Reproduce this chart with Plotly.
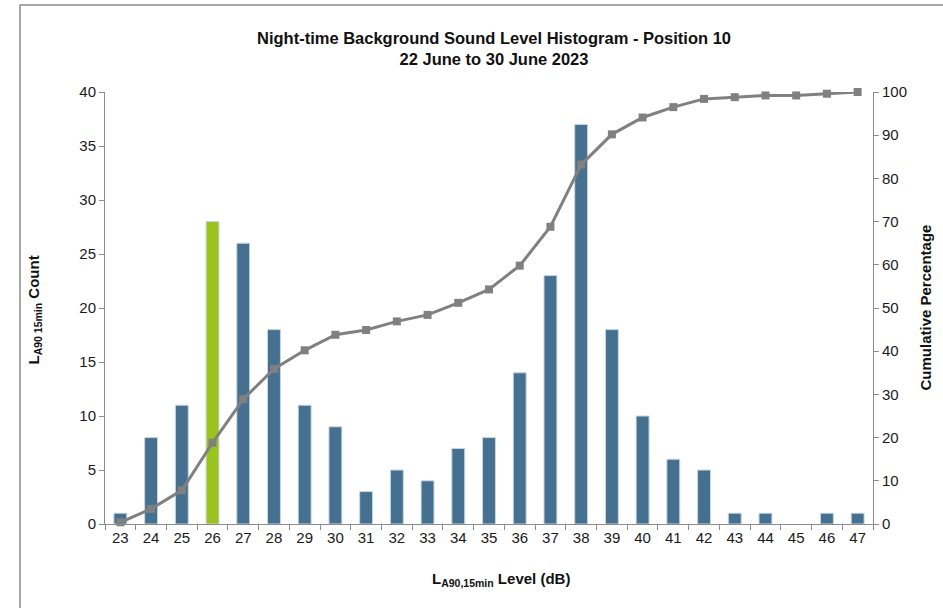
import plotly.graph_objects as go

levels = ["23", "24", "25", "26", "27", "28", "29", "30", "31", "32", "33", "34", "35",
          "36", "37", "38", "39", "40", "41", "42", "43", "44", "45", "46", "47"]
counts = [1, 8, 11, 28, 26, 18, 11, 9, 3, 5, 4, 7, 8, 14, 23, 37, 18, 10, 6, 5, 1, 1, 0, 1, 1]
cumulative_pct = [0.4, 3.5, 7.8, 18.8, 28.9, 35.9, 40.2, 43.8, 44.9, 46.9, 48.4, 51.2, 54.3,
                  59.8, 68.8, 83.2, 90.2, 94.1, 96.5, 98.4, 98.8, 99.2, 99.2, 99.6, 100.0]
highlight_level = "26"

BLUE = "#46708f"
GREEN = "#9bc31d"
GREY = "#808080"
FONT = "Liberation Sans, Arial, sans-serif"

bar_colors = [GREEN if lv == highlight_level else BLUE for lv in levels]
bar_outline_w = [1 if c > 0 else 0 for c in counts]

fig = go.Figure()
fig.add_trace(go.Bar(
    x=levels, y=counts,
    marker=dict(color=bar_colors, line=dict(color="#c9d7e3", width=bar_outline_w)),
    width=0.42, yaxis="y", showlegend=False, hoverinfo="x+y",
))
fig.add_trace(go.Scatter(
    x=levels, y=cumulative_pct, yaxis="y2", mode="lines+markers",
    line=dict(color=GREY, width=3), marker=dict(symbol="square", size=8, color=GREY),
    showlegend=False, cliponaxis=False,
))

W, H = 943, 608
L, R, T, B = 105, 70, 92, 84
pw, ph = W - L - R, H - T - B

def px(xp):
    return (xp - L) / pw

def py(yp):
    return (H - B - yp) / ph

axis_common = dict(
    showgrid=False, zeroline=False, showline=True, linecolor="#8c8c8c", linewidth=1,
    ticks="outside", ticklen=5, tickcolor="#8c8c8c",
    tickfont=dict(family=FONT, size=15, color="#1a1a1a"),
)

fig.update_layout(
    width=W, height=H,
    margin=dict(l=L, r=R, t=T, b=B, autoexpand=False),
    paper_bgcolor="white", plot_bgcolor="white",
    title=dict(
        text="<b>Night-time Background Sound Level Histogram - Position 10<br>22 June to 30 June 2023</b>",
        x=494 / W, xanchor="center", y=1 - 44 / H, yanchor="middle",
        font=dict(family=FONT, size=16.5, color="#111111"),
    ),
    xaxis=dict(type="category", tickson="boundaries", range=[-0.5, len(levels) - 0.5],
               **axis_common),
    yaxis=dict(range=[0, 40], dtick=5, **axis_common),
    yaxis2=dict(range=[0, 100], dtick=10, overlaying="y", side="right", **axis_common),
    shapes=[dict(
        type="path", xref="paper", yref="paper",
        path=f"M {px(20)} {py(H + 5)} L {px(20)} {py(5)} L {px(W + 5)} {py(5)}",
        line=dict(color="#8c8c8c", width=1.5),
    )],
    annotations=[
        dict(text="<b>L<sub>A90 15min</sub> Count</b>", textangle=-90,
             x=px(22), y=py(310), xref="paper", yref="paper", showarrow=False,
             font=dict(family=FONT, size=15, color="#111111")),
        dict(text="<b>Cumulative Percentage</b>", textangle=-90,
             x=px(935), y=py(308), xref="paper", yref="paper", showarrow=False,
             font=dict(family=FONT, size=15, color="#111111")),
        dict(text="<b>L<sub>A90,15min</sub> Level (dB)</b>",
             x=px(501), y=py(591), xref="paper", yref="paper", showarrow=False,
             font=dict(family=FONT, size=15, color="#111111")),
    ],
)

fig.write_html("out.html", config={"displayModeBar": False},
               post_script="document.body.style.margin='0';")
